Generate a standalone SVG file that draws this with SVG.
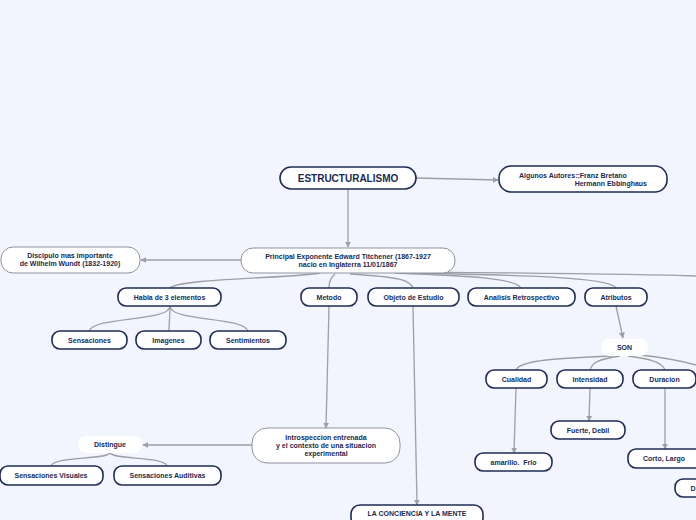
<svg xmlns="http://www.w3.org/2000/svg" width="696" height="520" viewBox="0 0 696 520">
<defs>
<style>
.bg{fill:#f2f5fd}
.n{fill:#fff;stroke:#1f2c54;stroke-width:1.6}
.g{fill:#fff;stroke:#8e93a3;stroke-width:1}
.w{fill:#fff;stroke:none}
.t{font-family:"Liberation Sans",Arial,sans-serif;font-weight:bold;font-size:7px;fill:#1c2a4f;text-anchor:middle}
.big{font-size:10px}
.c{fill:none;stroke:#9d9ea6;stroke-width:1.3}
.a{marker-end:url(#ar)}
</style>
<marker id="ar" viewBox="0 0 10 10" refX="9" refY="5" markerWidth="6" markerHeight="6" orient="auto" markerUnits="userSpaceOnUse">
<path d="M0,0 L10,5 L0,10 z" fill="#9d9ea6"/>
</marker>
</defs>
<rect class="bg" x="0" y="0" width="696" height="520"/>
<g id="connectors">
<path class="c a" d="M416,178 L498,180"/>
<path class="c a" d="M348,189 L348,247"/>
<path class="c a" d="M241,260 L141,260"/>
<path class="c" d="M320,273 C300,278 180,278 170,288"/>
<path class="c" d="M335,274 C330,278 329,282 329,288"/>
<path class="c" d="M350,274 C400,277 410,280 413,288"/>
<path class="c" d="M395,273 C470,276 515,278 521,288"/>
<path class="c" d="M405,273 C520,275 610,277 616,288"/>
<path class="c" d="M410,272 C520,273 640,274 696,276"/>
<path class="c" d="M170,306 C170,322 95,316 89,331"/>
<path class="c" d="M170,306 C170,318 169,322 169,331"/>
<path class="c" d="M170,306 C170,322 242,316 248,331"/>
<path class="c a" d="M616,306 L623,338"/>
<path class="c a" d="M329,306 L326,428"/>
<path class="c a" d="M413,306 L417,505"/>
<path class="c a" d="M252,445 L143,445"/>
<path class="c" d="M110,453 C105,460 55,456 51,466"/>
<path class="c" d="M110,453 C115,460 163,456 167,466"/>
<path class="c" d="M612,356 C560,358 520,360 516,370"/>
<path class="c" d="M620,356 C600,359 592,362 590,370"/>
<path class="c" d="M628,356 C650,359 662,362 665,370"/>
<path class="c" d="M640,355 C670,358 685,362 696,365"/>
<path class="c a" d="M516,388 L514,453"/>
<path class="c a" d="M590,388 L589,421"/>
<path class="c a" d="M665,388 L665,449"/>
</g>
<g id="n-estructuralismo"><rect class="n" x="280" y="167" width="136" height="22" rx="11"/><text class="t big" x="348" y="181.5">ESTRUCTURALISMO</text></g>
<g id="n-autores"><rect class="n" x="499" y="166" width="168" height="26" rx="12"/><text class="t" x="519" y="178" style="text-anchor:start">Algunos Autores::Franz Bretano</text><text class="t" x="647" y="186" style="text-anchor:end">Hermann Ebbinghaus</text></g>
<g id="n-principal"><rect class="g" x="241" y="248" width="214" height="25" rx="12"/><text class="t" x="348" y="259">Principal Exponente Edward Titchener (1867-1927</text><text class="t" x="348" y="267">nacio en Inglaterra 11/01/1867</text></g>
<g id="n-discipulo"><rect class="g" x="1" y="247" width="139" height="26" rx="12"/><text class="t" x="70" y="258">Discipulo mas importante</text><text class="t" x="70" y="266">de Wilhelm Wundt (1832-1920)</text></g>
<g id="n-habla"><rect class="n" x="118" y="288" width="103" height="18" rx="8"/><text class="t" x="169.5" y="299.5">Habla de 3 elementos</text></g>
<g id="n-metodo"><rect class="n" x="301" y="288" width="56" height="18" rx="8"/><text class="t" x="329" y="299.5">Metodo</text></g>
<g id="n-objeto"><rect class="n" x="368" y="288" width="91" height="18" rx="8"/><text class="t" x="413.5" y="299.5">Objeto de Estudio</text></g>
<g id="n-analisis"><rect class="n" x="468" y="288" width="107" height="18" rx="8"/><text class="t" x="521.5" y="299.5">Analisis Retrospectivo</text></g>
<g id="n-atributos"><rect class="n" x="585" y="288" width="62" height="18" rx="8"/><text class="t" x="616" y="299.5">Atributos</text></g>
<g id="n-sensaciones"><rect class="n" x="52" y="331" width="75" height="18" rx="8"/><text class="t" x="89.5" y="342.5">Sensaciones</text></g>
<g id="n-imagenes"><rect class="n" x="136" y="331" width="65" height="18" rx="8"/><text class="t" x="168.5" y="342.5">Imagenes</text></g>
<g id="n-sentimientos"><rect class="n" x="210" y="331" width="76" height="18" rx="8"/><text class="t" x="248" y="342.5">Sentimientos</text></g>
<g id="n-son"><rect class="w" x="601" y="339" width="47" height="17" rx="8"/><text class="t" x="624.5" y="350">SON</text></g>
<g id="n-cualidad"><rect class="n" x="486" y="370" width="61" height="18" rx="8"/><text class="t" x="516.5" y="381.5">Cualidad</text></g>
<g id="n-intensidad"><rect class="n" x="557" y="370" width="66" height="18" rx="8"/><text class="t" x="590" y="381.5">Intensidad</text></g>
<g id="n-duracion"><rect class="n" x="633" y="370" width="63" height="18" rx="8"/><text class="t" x="664.5" y="381.5">Duracion</text></g>
<g id="n-fuerte"><rect class="n" x="551" y="421" width="74" height="18" rx="8"/><text class="t" x="588" y="432.5">Fuerte, Debil</text></g>
<g id="n-amarillo"><rect class="n" x="475" y="453" width="77" height="18" rx="8"/><text class="t" x="513.5" y="464.5">amarillo.&#160; Frio</text></g>
<g id="n-corto"><rect class="n" x="628" y="449" width="80" height="19" rx="8"/><text class="t" x="664" y="461">Corto, Largo</text></g>
<g id="n-d"><rect class="n" x="675" y="479" width="40" height="18" rx="8"/><text class="t" x="693" y="490.5">D</text></g>
<g id="n-introspeccion"><rect class="g" x="252" y="428" width="148" height="35" rx="15"/><text class="t" x="326" y="440">Introspeccion entrenada</text><text class="t" x="326" y="448">y el contexto de una situacion</text><text class="t" x="326" y="456">experimental</text></g>
<g id="n-distingue"><rect class="w" x="78" y="436" width="64" height="17" rx="8"/><text class="t" x="110" y="447">Distingue</text></g>
<g id="n-visuales"><rect class="n" x="0" y="466" width="103" height="19" rx="8"/><text class="t" x="51" y="478">Sensaciones Visuales</text></g>
<g id="n-auditivas"><rect class="n" x="114" y="466" width="107" height="19" rx="8"/><text class="t" x="167.5" y="478">Sensaciones Auditivas</text></g>
<g id="n-conciencia"><rect class="n" x="351" y="505" width="132" height="22" rx="9"/><text class="t" x="417" y="516">LA CONCIENCIA Y LA MENTE</text></g>
</svg>
